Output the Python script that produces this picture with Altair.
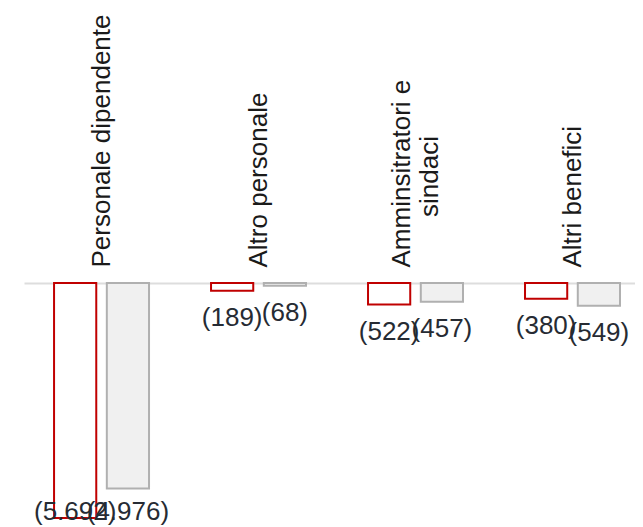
import altair as alt
import pandas as pd

categories = ["Personale dipendente", "Altro personale", "Amminsitratori e\nsindaci", "Altri benefici"]
series = ["Corrente", "Precedente"]
current_values = [-5692, -189, -522, -380]
previous_values = [-4976, -68, -457, -549]

rows = []
for c, v in zip(categories, current_values):
    rows.append({"category": c, "series": series[0], "value": v})
for c, v in zip(categories, previous_values):
    rows.append({"category": c, "series": series[1], "value": v})
df = pd.DataFrame(rows)

FONT = "Liberation Sans"

# multi-line labels: second line centred under the first (prefixed with no-break spaces,
# behind a zero-width space so that the renderer does not trim them)
L = "split(datum.label, '\\n')"
label_expr = (
    f"length({L}) > 1 ? [{L}[0], '\u200b' + pad({L}[1], length({L}[1]) + "
    f"round(0.8 * (length({L}[0]) - length({L}[1]))), '\u00a0', 'left')] : datum.label"
)

x_enc = alt.X(
    "category:N",
    sort=categories,
    scale=alt.Scale(paddingInner=0.395, paddingOuter=0.1435, align=0.667),
    axis=alt.Axis(
        orient="top",
        title=None,
        labelAngle=270,
        labelAlign="left",
        labelBaseline="middle",
        labelPadding=16,
        labelFontSize=26,
        labelFont=FONT,
        labelColor="#1a1a1a",
        labelLimit=0,
        labelLineHeight=28,
        labelExpr=label_expr,
        labelOffset={"condition": {"test": "indexof(datum.label, '\\n') >= 0", "value": -14}, "value": 0},
        ticks=False,
        domainColor="#dddddd",
        domainWidth=2,
    ),
)
xoff_enc = alt.XOffset("series:N", sort=series, scale=alt.Scale(paddingInner=0.2))
y_scale = alt.Scale(domain=[-5884, 0], nice=False)

base = alt.Chart(df)

bars = base.mark_bar(strokeWidth=2).encode(
    x=x_enc,
    xOffset=xoff_enc,
    y=alt.Y("value:Q", scale=y_scale, axis=None),
    y2=alt.datum(0),
    fill=alt.Fill("series:N", scale=alt.Scale(domain=series, range=["#ffffff", "#f0f0f0"]), legend=None),
    stroke=alt.Stroke("series:N", scale=alt.Scale(domain=series, range=["#c00000", "#b0b0b0"]), legend=None),
)

labels = base.transform_calculate(
    label="'(' + replace(format(abs(datum.value), ','), ',', '.') + ')'",
    labelY="max(datum.value - 654, -5545)",
).mark_text(
    baseline="middle", align="center", fontSize=26, font=FONT, color="#262b33"
).encode(
    x=alt.X("category:N", sort=categories),
    xOffset=xoff_enc,
    y=alt.Y("labelY:Q", scale=y_scale, axis=None),
    text="label:N",
)

chart = (
    alt.layer(bars, labels)
    .properties(
        width=611,
        height=243,
        padding={"left": 16, "top": 275, "right": 0, "bottom": 0},
        autosize=alt.AutoSizeParams(type="none"),
    )
    .configure_view(stroke=None)
)

chart.save("out.html", embed_options={"renderer": "svg", "actions": False})
